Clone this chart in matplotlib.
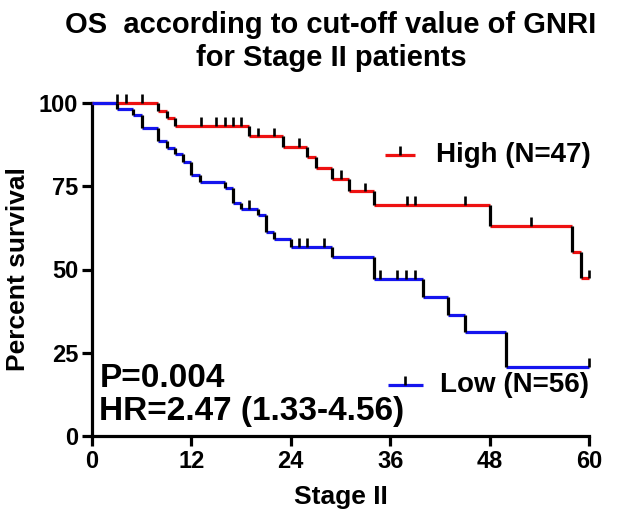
import matplotlib
matplotlib.use('Agg')
import matplotlib.pyplot as plt

plt.rcParams['font.family'] = ['Liberation Sans', 'DejaVu Sans']
plt.rcParams['font.weight'] = 'bold'

# Kaplan-Meier steps (months, percent survival)
high_t = [0, 8, 9, 10, 19, 23, 26, 27, 29, 31, 34, 48, 58, 59]
high_s = [100, 97.7, 95.5, 93.2, 90.0, 86.8, 83.7, 80.5, 77.3, 73.5, 69.5, 63.2, 55.3, 47.4]
high_cens = [3, 4.1, 6, 13.2, 15, 16, 17, 18, 20, 22, 25, 30, 33, 38, 39, 45, 53, 60]

low_t = [0, 3, 5, 6, 8, 9, 10, 11, 12, 13, 16, 17, 18, 20, 21, 22, 24, 29, 34, 40, 43, 45, 50]
low_s = [100, 98.2, 96.4, 92.5, 88.5, 86.6, 84.6, 82.4, 78.3, 76.3, 74.4, 70.0, 68.2, 66.4,
         61.3, 59.2, 56.8, 53.8, 47.1, 41.7, 36.3, 31.2, 20.7]
low_cens = [19, 25, 26, 28, 34.8, 36.8, 37.9, 39, 60]

t_end = 60
x_ticks = [0, 12, 24, 36, 48, 60]
y_ticks = [0, 25, 50, 75, 100]


def level_at(ts, ss, x):
	val = ss[0]
	for t, s in zip(ts, ss):
		if t <= x:
			val = s
	return val


def draw_km(ax, ts, ss, cens, color):
	lw = 2.3
	ends = ts[1:] + [t_end]
	for t0, t1, s in zip(ts, ends, ss):
		ax.hlines(s, t0, t1, color=color, lw=lw, clip_on=False, zorder=3)
	for i in range(1, len(ts)):
		ax.vlines(ts[i], ss[i], ss[i - 1], color='black', lw=lw, clip_on=False, zorder=4)
	for c in cens:
		s = level_at(ts, ss, c)
		ax.vlines(c, s, s + 2.6, color='black', lw=1.9, clip_on=False, zorder=5)


def main():
	fig = plt.figure(figsize=(6.28, 5.18), dpi=100)
	ax = fig.add_axes([92 / 628, 1 - 436 / 518, (589 - 92) / 628, (436 - 103) / 518])

	draw_km(ax, high_t, high_s, high_cens, '#ee1111')
	draw_km(ax, low_t, low_s, low_cens, '#1515ee')

	ax.set_xlim(0, 60)
	ax.set_ylim(0, 100)
	ax.set_xticks(x_ticks)
	ax.set_yticks(y_ticks)
	for sp in ['top', 'right']:
		ax.spines[sp].set_visible(False)
	for sp in ['left', 'bottom']:
		ax.spines[sp].set_linewidth(2.3)
	ax.tick_params(width=2.3, length=7, labelsize=17, pad=3)
	for lab in ax.get_xticklabels() + ax.get_yticklabels():
		lab.set_fontweight('bold')

	ax.set_xlabel('Stage II', fontsize=19, fontweight='bold', labelpad=9)
	ax.set_ylabel('Percent survival', fontsize=19, fontweight='bold', labelpad=6)

	fig.text(331 / 628, 1 - 11 / 518, 'OS  according to cut-off value of GNRI\nfor Stage II patients',
	         ha='center', va='top', fontsize=21, fontweight='bold', linespacing=1.25)

	# legend drawn by hand
	ax.hlines(84.4, 35.4, 39.0, color='#ee1111', lw=2.3, clip_on=False)
	ax.vlines(37.2, 84.4, 87.0, color='black', lw=1.9, clip_on=False)
	ax.text(41.5, 84.4, 'High (N=47)', fontsize=20, fontweight='bold', va='center')
	ax.hlines(15.3, 35.7, 40.0, color='#1515ee', lw=2.3, clip_on=False)
	ax.vlines(37.8, 15.3, 17.9, color='black', lw=1.9, clip_on=False)
	ax.text(42.0, 15.3, 'Low (N=56)', fontsize=20, fontweight='bold', va='center')

	ax.text(0.9, 14.7, 'P=0.004', fontsize=24, fontweight='bold', va='baseline')
	ax.text(0.9, 4.8, 'HR=2.47 (1.33-4.56)', fontsize=24, fontweight='bold', va='baseline')

	fig.savefig('out.png', dpi=100)


if __name__ == '__main__':
	main()
